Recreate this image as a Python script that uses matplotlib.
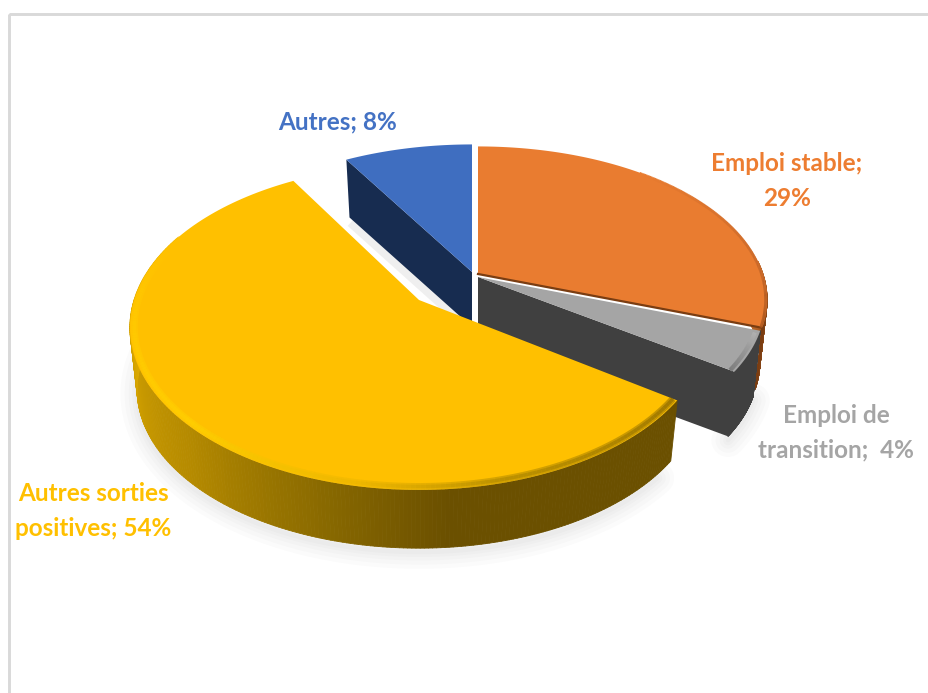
import numpy as np
import matplotlib
matplotlib.use('Agg')
import matplotlib.pyplot as plt
from matplotlib.collections import PolyCollection, LineCollection
from matplotlib.colors import to_rgb
from matplotlib.patches import Rectangle

labels = ['Emploi stable;\n29%', 'Emploi de\ntransition;  4%', 'Autres sorties\npositives; 54%', 'Autres; 8%']
values = [29, 4, 54, 8]
colors = ['#E97C30', '#A5A5A5', '#FFC000', '#3F6EC0']
text_colors = ['#ED7D31', '#A5A5A5', '#FFC000', '#4472C4']

# where each slice ended up once pulled out, in pixels
centers = [(478, 274), (478, 277), (419, 300), (472, 272)]
radius_x = [285, 283, 285, 285]
radius_y = [149, 149, 158, 149]
depths = [63, 67, 63, 55]
label_pos = [(787, 181), (836, 433), (93, 511), (338, 122)]

PERSP = 0.168
BOTTOM_SCALE = 0.975

fractions = np.array(values) / sum(values)
ends = np.cumsum(fractions) * 360
starts = ends - fractions * 360


def project(theta, i, r=1.0, drop=0):
    # theta is clockwise from north, the far side of the disc looks smaller
    t = np.radians(theta)
    u, v = r * np.sin(t), r * np.cos(t)
    w = 1 + PERSP * v
    k = BOTTOM_SCALE if drop else 1.0
    return centers[i][0] + k * radius_x[i] * u / w, centers[i][1] - k * radius_y[i] * v / w + drop


def gradient(theta, stops):
    pos = [s[0] for s in stops]
    rgb = np.array([to_rgb(s[1]) for s in stops])
    return np.column_stack([np.interp(theta, pos, rgb[:, j]) for j in range(3)])


def top_face(ax, i, zorder):
    x, y = project(np.linspace(starts[i], ends[i], 150), i)
    ax.fill(np.r_[centers[i][0], x], np.r_[centers[i][1], y], color=colors[i], lw=0, zorder=zorder)


def outer_wall(ax, i, a, b, stops, zorder):
    th = np.linspace(a, b, 240)
    xt, yt = project(th, i)
    xb, yb = project(th, i, drop=depths[i])
    quads = [[(xt[j], yt[j]), (xt[j + 1], yt[j + 1]), (xb[j + 1], yb[j + 1]), (xb[j], yb[j])] for j in range(len(th) - 1)]
    cols = gradient(th[:-1], stops)
    ax.add_collection(PolyCollection(quads, facecolors=cols, edgecolors=cols, linewidths=0.6, zorder=zorder))


def radial_wall(ax, i, theta, color, zorder):
    cx, cy = centers[i]
    xt, yt = project(np.array([theta]), i)
    xb, yb = project(np.array([theta]), i, drop=depths[i])
    ax.fill([cx, xt[0], xb[0], cx], [cy, yt[0], yb[0], cy + depths[i]], color=color, lw=0, zorder=zorder)


def rim(ax, i, a, b, stops, zorder, r=0.985, widths=(3,), alpha=1.0):
    th = np.linspace(a, b, 200)
    x, y = project(th, i, r)
    segs = [[(x[j], y[j]), (x[j + 1], y[j + 1])] for j in range(len(th) - 1)]
    for lw in widths:
        ax.add_collection(LineCollection(segs, colors=gradient(th[:-1], stops), linewidths=lw,
                                         alpha=alpha, zorder=zorder, capstyle='butt'))


def shadow(ax, i, a, b, zorder):
    x, y = project(np.linspace(a, b, 150), i, drop=depths[i] + 4)
    for lw in [24, 18, 12, 7, 3]:
        ax.plot(x, y, color='#808080', alpha=0.03, lw=lw, solid_capstyle='round', zorder=zorder)


fig = plt.figure(figsize=(9.29, 6.93), dpi=100)
ax = fig.add_axes([0, 0, 1, 1])
ax.set_xlim(0, 929)
ax.set_ylim(693, 0)
ax.axis('off')

ax.add_patch(Rectangle((9.5, 13.5), 940, 700, fill=False, ec='#D9D9D9', lw=2.1, zorder=0))

shadow(ax, 2, starts[2] + 5, 295, 1)
shadow(ax, 1, starts[1], ends[1], 1)
x_sh, y_sh = project(np.array([ends[2]]), 3, drop=depths[3])
ax.plot([x_sh[0] + 6, centers[3][0]], [y_sh[0] + 8, centers[3][1] + depths[3] + 3], color='#808080', alpha=0.12, lw=8, zorder=1)

# back slices first, the big yellow one comes last
radial_wall(ax, 3, starts[3], '#172C50', 2)
top_face(ax, 3, 3)

outer_wall(ax, 0, 85, ends[0], [(85, '#C06A2A'), (ends[0], '#7A3D12')], 2)
outer_wall(ax, 1, starts[1], ends[1], [(starts[1], '#404040'), (ends[1], '#404040')], 3)
radial_wall(ax, 1, ends[1], '#404040', 3)
top_face(ax, 1, 4)
top_face(ax, 0, 5)
x, y = project(np.array([ends[0]]), 0)
ax.plot([centers[0][0], x[0]], [centers[0][1], y[0]], color='#7A3D12', lw=1.6, zorder=6)
rim(ax, 0, 40, ends[0], [(40, '#E97C30'), (85, '#C9692A'), (ends[0], '#A9561E')], 6, r=0.995, widths=(2,))
rim(ax, 1, starts[1] + 1, ends[1], [(starts[1], '#BDBDBD'), (ends[1], '#6E6E6E')], 6, r=0.985, widths=(3,))

yellow_wall = [(125, '#6B5000'), (175, '#6B5000'), (200, '#8F6E00'), (225, '#B58A00'),
               (270, '#DDAA00'), (300, '#F0BC00'), (330, '#F0BC00')]
yellow_rim = [(125, '#7A5C00'), (165, '#A07E00'), (190, '#E8B400'), (225, '#FFD400'),
              (265, '#FFCC00'), (295, '#FFC000'), (330, '#FFC000')]
outer_wall(ax, 2, starts[2], 295, yellow_wall, 7)
top_face(ax, 2, 8)
rim(ax, 2, starts[2], 295, yellow_rim, 9, r=0.985, widths=(5, 2.5), alpha=0.45)

for lab, pos, col in zip(labels, label_pos, text_colors):
    ax.text(pos[0], pos[1], lab, color=col, ha='center', va='center', family='Lato',
            fontweight='bold', fontsize=17.5, linespacing=1.62, zorder=10)

fig.savefig('out.png', dpi=100)
